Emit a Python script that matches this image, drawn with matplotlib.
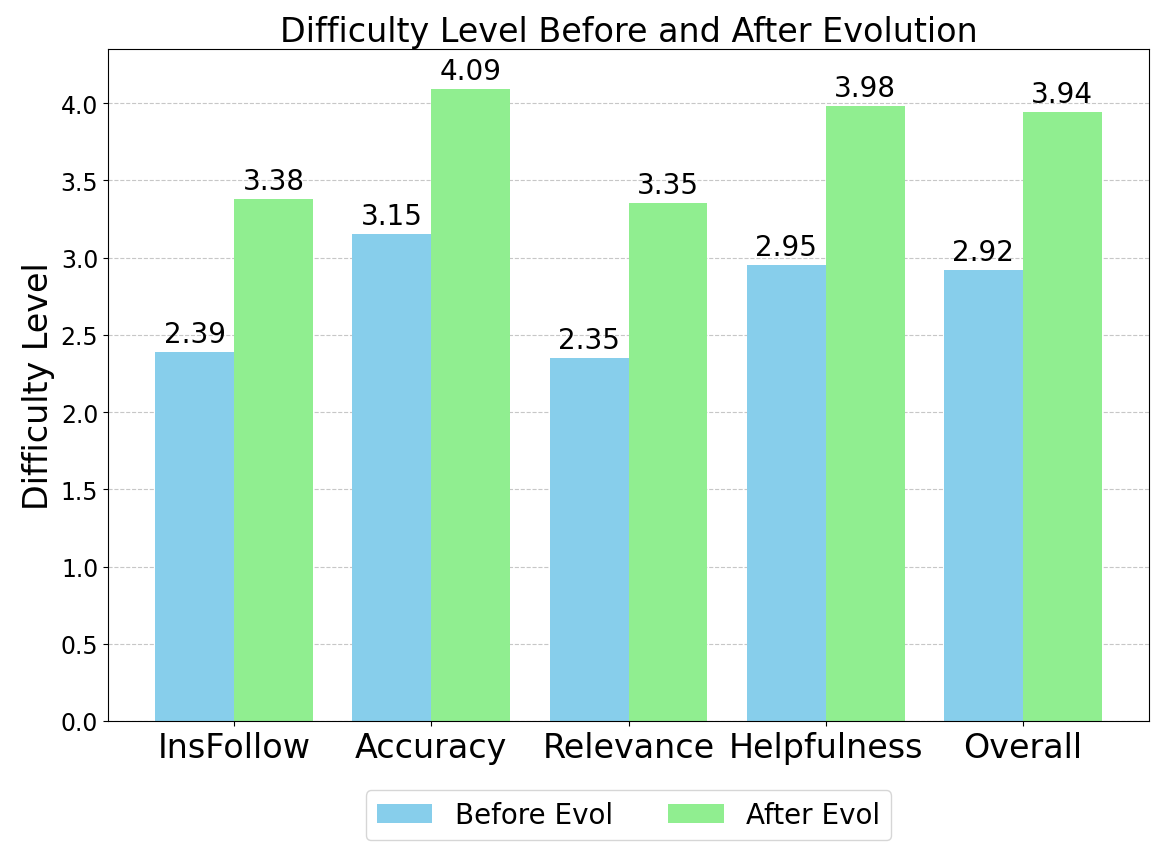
import matplotlib.pyplot as plt
import numpy as np

categories = ["InsFollow", "Accuracy", "Relevance", "Helpfulness", "Overall"]
before_evol = [2.39, 3.15, 2.35, 2.95, 2.92]
after_evol = [3.38, 4.09, 3.35, 3.98, 3.94]

W, H = 1163, 853
fig = plt.figure(figsize=(W / 100, H / 100), dpi=100)
# axes box in pixels: left 108, right 1149, top 50, bottom 722
ax = fig.add_axes([108 / W, 1 - 722 / H, (1149 - 108) / W, (722 - 50) / H])

x = np.arange(len(categories))
width = 0.4
bars1 = ax.bar(x - width / 2, before_evol, width, color="skyblue", label="Before Evol")
bars2 = ax.bar(x + width / 2, after_evol, width, color="lightgreen", label="After Evol")

for bars in (bars1, bars2):
    for b in bars:
        ax.annotate(f"{b.get_height():.2f}",
                    xy=(b.get_x() + b.get_width() / 2, b.get_height()),
                    xytext=(0, 3), textcoords="offset points",
                    ha="center", va="bottom", fontsize=20)

ax.set_title("Difficulty Level Before and After Evolution", fontsize=24)
ax.set_ylabel("Difficulty Level", fontsize=24)
ax.set_xticks(x)
ax.set_xticklabels(categories, fontsize=24)
ax.tick_params(axis="y", labelsize=17)
ax.yaxis.grid(True, linestyle="--", alpha=0.7)
ax.set_axisbelow(True)
ax.set_ylim(0, 4.35)

ax.legend(loc="upper center", bbox_to_anchor=(0.5, -0.082), ncol=2, fontsize=20)

fig.savefig("out.png", dpi=100)
